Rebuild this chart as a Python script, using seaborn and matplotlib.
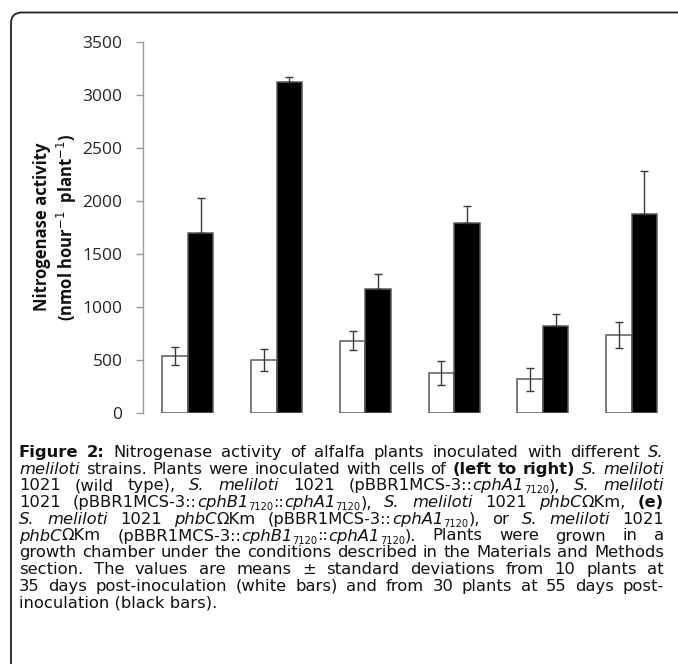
import re
import pandas as pd
import seaborn as sns
import matplotlib.pyplot as plt
from matplotlib.patches import FancyBboxPatch

# strains, left to right
strains = ["1021", "1021 cphA1", "1021 cphB1::cphA1",
           "phbC", "phbC cphA1", "phbC cphB1::cphA1"]
# 35 days post-inoculation (white bars)
day35_mean = [537, 500, 680, 377, 317, 736]
day35_sd = [88, 100, 90, 113, 105, 125]
# 55 days post-inoculation (black bars)
day55_mean = [1695, 3120, 1168, 1795, 821, 1875]
day55_sd = [337, 54, 140, 161, 111, 407]
yticks = [0, 500, 1000, 1500, 2000, 2500, 3000, 3500]

# caption: *italic*  #bold#  ~subscript~
caption = [
    "#Figure 2:# Nitrogenase activity of alfalfa plants inoculated with different *S.*",
    "*meliloti* strains. Plants were inoculated with cells of #(left to right)# *S. meliloti*",
    "1021 (wild type), *S. meliloti* 1021 (pBBR1MCS-3::*cphA1*~7120~), *S. meliloti*",
    "1021 (pBBR1MCS-3::*cphB1*~7120~::*cphA1*~7120~), *S. meliloti* 1021 *phbC*\u03a9Km, #(e)#",
    "*S. meliloti* 1021 *phbC*\u03a9Km (pBBR1MCS-3::*cphA1*~7120~), or *S. meliloti* 1021",
    "*phbC*\u03a9Km (pBBR1MCS-3::*cphB1*~7120~::*cphA1*~7120~). Plants were grown in a",
    "growth chamber under the conditions described in the Materials and Methods",
    "section. The values are means \u00b1 standard deviations from 10 plants at",
    "35 days post-inoculation (white bars) and from 30 plants at 55 days post-",
    "inoculation (black bars).",
]

df = pd.DataFrame({
    "strain": strains * 2,
    "time": ["35 d"] * len(strains) + ["55 d"] * len(strains),
    "activity": day35_mean + day55_mean,
})

sns.set_style("white")
W, H = 678, 664
fig = plt.figure(figsize=(W / 100, H / 100), dpi=100)

ax = fig.add_axes([143 / W, 1 - 413 / H, (676 - 143) / W, (413 - 42) / H])
sns.barplot(data=df, x="strain", y="activity", hue="time",
            palette=["white", "black"], width=0.575, edgecolor="#5a5a5a",
            linewidth=1.1, errorbar=None, legend=False, ax=ax)

# error bars on top of the seaborn bars
bars = ax.patches[:2 * len(strains)]
xs = [b.get_x() + b.get_width() / 2 for b in bars]
ax.errorbar(xs[:6], day35_mean, yerr=day35_sd, fmt="none", ecolor="#3a3a3a",
            elinewidth=1.0, capsize=2.8, capthick=1.0)
ax.errorbar(xs[6:12], day55_mean, yerr=[[0] * 6, day55_sd], fmt="none",
            ecolor="#3a3a3a", elinewidth=1.0, capsize=2.8, capthick=1.0)

ax.set_ylim(0, 3500)
ax.set_xlim(-0.507, 5.5)
ax.set_yticks(yticks)
ax.set_yticklabels([str(v) for v in yticks], family="Open Sans",
                   fontsize=12.5, color="#262626")
ax.set_xticks([])
ax.set_xlabel("")
ax.set_ylabel("")
for s in ["top", "right", "bottom"]:
    ax.spines[s].set_visible(False)
ax.spines["left"].set_color("#9a9a9a")
ax.spines["left"].set_linewidth(1.0)
ax.tick_params(axis="y", direction="out", length=4.8, width=1.0,
               color="#9a9a9a", pad=10, left=True)

fig.text(42 / W, 1 - 227 / H, "Nitrogenase activity", rotation=90,
         ha="center", va="center", family="Open Sans", fontweight="bold",
         fontsize=12, color="#111111")
fig.text(67 / W, 1 - 227 / H, r"(nmol hour$^{-1}$  plant$^{-1}$)", rotation=90,
         ha="center", va="center", family="Open Sans", fontweight="bold",
         fontsize=12, color="#111111")

# frame round the figure, rounded top-left corner
fig.patches.append(FancyBboxPatch(
    (11 / W, -0.05), 1.2, 1 - 12.5 / H + 0.05,
    boxstyle="round,pad=0,rounding_size=0.016", transform=fig.transFigure,
    fill=False, edgecolor="#222222", linewidth=1.3, clip_on=False))


# justified caption
cap_fs = 11.8
cap_font = "DejaVu Sans"
left, right = 19, 664
base0, step = 457, 16.7
renderer = fig.canvas.get_renderer()


def parse(line):
    runs = []
    for part in re.split(r"(\*[^*]+\*|#[^#]+#|~[^~]+~)", line):
        if not part:
            continue
        style = {"*": "i", "#": "b", "~": "s"}.get(part[0], "n")
        text = part[1:-1] if style != "n" else part
        runs.append((text, style))
    tokens = [[]]
    for text, style in runs:
        pieces = text.split(" ")
        for k, p in enumerate(pieces):
            if k > 0:
                tokens.append([])
            if p:
                tokens[-1].append((p, style))
    return [t for t in tokens if t]


def make_text(s, style):
    kw = dict(fontsize=cap_fs, family=cap_font, va="baseline",
              ha="left", color="#111111")
    if style == "b":
        kw["fontweight"] = "bold"
    if style == "i":
        kw["fontstyle"] = "italic"
    if style == "s":
        kw["fontsize"] = cap_fs * 0.6
    return fig.text(0, 0, s, **kw)


for li, line in enumerate(caption):
    y_base = base0 + li * step
    if li == len(caption) - 1:
        # last line is left aligned, plain text
        t = make_text(line, "n")
        t.set_position((left / W, 1 - y_base / H))
        continue
    toks = []
    for tok in parse(line):
        items = []
        for s, style in tok:
            t = make_text(s, style)
            w = t.get_window_extent(renderer).width
            items.append((t, style, w))
        toks.append(items)
    widths = [sum(i[2] for i in tok) for tok in toks]
    gap = (right - left - sum(widths)) / (len(toks) - 1)
    x = left
    for tok, tw in zip(toks, widths):
        cx = x
        for t, style, w in tok:
            dy = 3.0 if style == "s" else 0
            t.set_position((cx / W, 1 - (y_base + dy) / H))
            cx += w
        x += tw + gap

fig.savefig("out.png", dpi=100, facecolor="white")
